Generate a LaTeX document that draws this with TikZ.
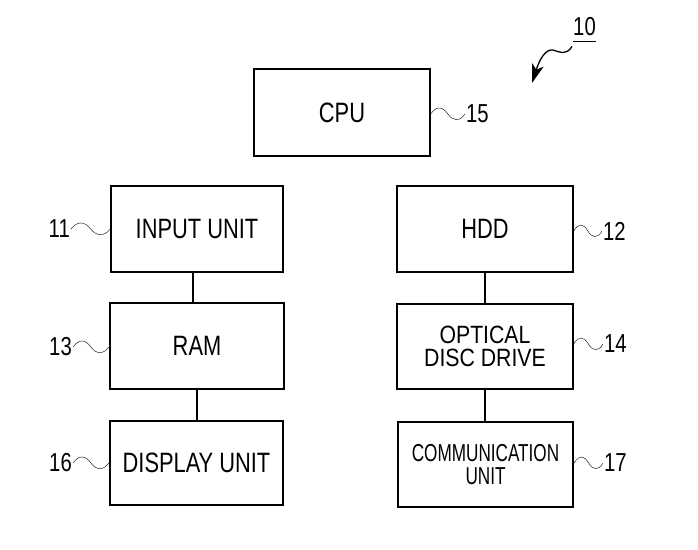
\documentclass[tikz,border=0pt]{standalone}
\usepackage{fontspec}
\setmainfont{Liberation Sans}
\newfontfamily\boxfont{Liberation Sans}[FakeStretch=0.78]
\newfontfamily\odfont{Liberation Sans}[FakeStretch=0.85]
\newfontfamily\commfont{Liberation Sans}[FakeStretch=0.70]
\newfontfamily\numfont{Liberation Sans}[FakeStretch=0.78]
\usetikzlibrary{calc,arrows.meta}
\tikzset{
  unit/.style={draw, line width=1.4pt, inner sep=0pt, align=center,
    minimum width=175pt, minimum height=86pt,
    font=\boxfont\fontsize{28}{23}\selectfont},
  heavy/.style={line width=2.4pt},
  refnum/.style={inner sep=1pt, font=\numfont\fontsize{26}{26}\selectfont},
  link/.style={line width=2.2pt},
  tilde/.style={line width=1.3pt, to path={
    .. controls ($(\tikztostart)!0.18!(\tikztotarget)+(0,-9)$)
    and ($(\tikztostart)!0.36!(\tikztotarget)+(0,-7)$)
    .. ($(\tikztostart)!0.5!(\tikztotarget)$)
    .. controls ($(\tikztostart)!0.64!(\tikztotarget)+(0,7)$)
    and ($(\tikztostart)!0.84!(\tikztotarget)+(0,8)$)
    .. (\tikztotarget)}}
}
\begin{document}
\begin{tikzpicture}[x=1pt,y=-1pt]
\useasboundingbox (0,0) rectangle (698,549);

% function blocks
\node[unit, minimum width=176pt, minimum height=87pt] (cpu) at (342,112.5) {CPU};
\node[unit, minimum width=172pt] (in) at (197,229) {INPUT UNIT};
\node[unit, minimum width=176pt] (hdd) at (485,229) {HDD};
\node[unit, heavy, minimum width=174pt] (ram) at (197,346) {RAM};
\node[unit, minimum width=176pt, minimum height=85pt,
      font=\odfont\fontsize{25}{23.5}\selectfont] (odd) at (485,346.5) {OPTICAL\\DISC DRIVE};
\node[unit, heavy, minimum width=173pt, minimum height=84pt] (disp) at (196.5,463) {DISPLAY UNIT};
\node[unit, heavy, minimum width=175pt, minimum height=85pt,
      font=\commfont\fontsize{24.5}{23.5}\selectfont] (comm) at (485.5,464.5) {COMMUNICATION\\UNIT};

% buses between blocks
\draw[link] ([xshift=-4pt]in.south) -- ([xshift=-4pt]ram.north);
\draw[link] (ram.south) -- (ram.south |- disp.north);
\draw[link] (hdd.south) -- (odd.north);
\draw[link] (odd.south) -- (odd.south |- comm.north);

% reference numerals
\node[refnum, anchor=west] (n15) at (465,114) {15};
\node[refnum, anchor=east] (n11) at (71,229) {11};
\node[refnum, anchor=west] (n12) at (602,231) {12};
\node[refnum, anchor=east] (n13) at (73,347) {13};
\node[refnum, anchor=west] (n14) at (603,344) {14};
\node[refnum, anchor=east] (n16) at (73,463) {16};
\node[refnum, anchor=west] (n17) at (603,463) {17};

\draw (cpu.east |- n15.west) to[tilde] (n15.west);
\draw (n11.east) to[tilde] (in.west |- n11.east);
\draw (hdd.east |- n12.west) to[tilde] (n12.west);
\draw (n13.east) to[tilde] (ram.west |- n13.east);
\draw (odd.east |- n14.west) to[tilde] (n14.west);
\draw (n16.east) to[tilde] (disp.west |- n16.east);
\draw (comm.east |- n17.west) to[tilde] (n17.west);

% overall device numeral with leader arrow
\node[refnum, inner sep=0pt] (n10) at (584.5,27) {10};
\draw[line width=1.3pt] ([yshift=-5pt]n10.south west) -- ([yshift=-5pt]n10.south east);
\coordinate (tip10) at (532,83);
\draw[line width=1.3pt, -{Stealth[length=19pt,width=12pt,inset=5pt]}]
  ([xshift=-1pt,yshift=-10pt]n10.south west)
  .. controls (566,56) and (560,52) .. (553,50)
  .. controls (546,49) and (540,58) .. (tip10);
\end{tikzpicture}
\end{document}
